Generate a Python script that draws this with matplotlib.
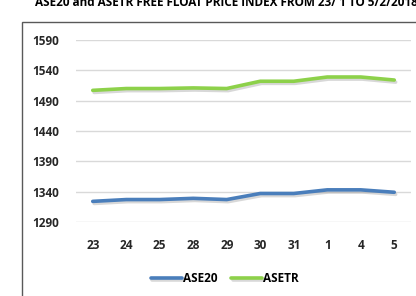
import matplotlib
matplotlib.use('Agg')
import matplotlib.pyplot as plt
import matplotlib.patheffects as pe
from matplotlib.patches import Rectangle

# data
days = ['23', '24', '25', '28', '29', '30', '31', '1', '4', '5']
ase20 = [1324, 1327, 1327, 1329, 1327, 1337, 1337, 1343, 1343, 1339]
asetr = [1507, 1510, 1510, 1511, 1510, 1522, 1522, 1529, 1529, 1524]
yticks = [1290, 1340, 1390, 1440, 1490, 1540, 1590]

plt.rcParams['font.family'] = ['Open Sans', 'DejaVu Sans']

W, H = 416, 296
fig = plt.figure(figsize=(W / 100, H / 100), dpi=100)

# outer chart border (runs off the right and bottom edge)
fig.patches.append(Rectangle((22 / W, -0.05), 1.1, (H - 22) / H + 0.05,
                             transform=fig.transFigure, fill=False,
                             edgecolor='#595959', linewidth=1.0))

# title, cut off at the top like in the original screenshot
fig.text(35 / W, 1 - 6 / H, 'ASE20 and ASETR FREE FLOAT PRICE INDEX FROM 23/ 1 TO 5/2/2018',
         fontsize=8.5, fontweight='bold', ha='left', va='baseline')

ax = fig.add_axes([76 / W, (H - 222) / H, (411 - 76) / W, (222 - 40) / H])
x = list(range(len(days)))
shadow = [pe.SimpleLineShadow(offset=(1, -1.5), shadow_color='gray', alpha=0.3), pe.Normal()]
ax.plot(x, ase20, color='#4a7ebb', linewidth=2.6, label='ASE20', path_effects=shadow,
        solid_capstyle='round')
ax.plot(x, asetr, color='#8dd14a', linewidth=2.6, label='ASETR', path_effects=shadow,
        solid_capstyle='round')

ax.set_xlim(-0.5, len(days) - 0.5)
ax.set_ylim(1290, 1590)
ax.set_yticks(yticks)
ax.set_xticks(x)
ax.set_xticklabels(days)
ax.grid(axis='y', color='#d9d9d9', linewidth=1)
ax.set_axisbelow(True)
for s in ax.spines.values():
    s.set_visible(False)
ax.tick_params(axis='both', length=0, labelsize=8.5, colors='#262626')
ax.tick_params(axis='y', pad=12)
ax.tick_params(axis='x', pad=12.5)
for lab in ax.get_xticklabels() + ax.get_yticklabels():
    lab.set_fontweight('bold')

leg = fig.legend(loc='center', bbox_to_anchor=(225 / W, 1 - 279 / H), ncol=2, frameon=False,
                 fontsize=8.5, handlelength=2.6, handletextpad=0.1, columnspacing=1.2)
for t in leg.get_texts():
    t.set_fontweight('bold')

fig.savefig('out.png', dpi=100)
